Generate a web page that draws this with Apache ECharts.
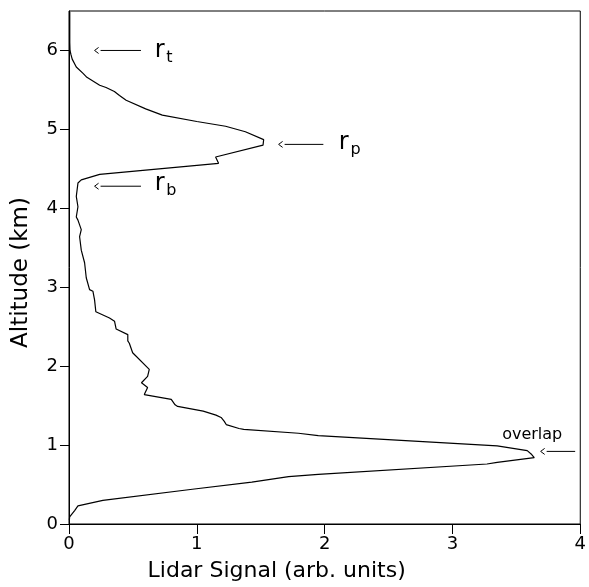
<!DOCTYPE html>
<html>
<head>
<meta charset="utf-8">
<script src="https://cdn.jsdelivr.net/npm/echarts@6/dist/echarts.min.js"></script>
<style>
  html, body { margin: 0; padding: 0; background: #fff; }
  #chart { width: 589px; height: 587px; }
</style>
</head>
<body>
<div id="chart"></div>
<script>
// ---- Data ----
// Altitude (km), ordered along the profile from the ground upwards
const altitude = [
  0.05, 0.09, 0.17, 0.23, 0.30, 0.44, 0.53, 0.60, 0.63, 0.76, 0.78, 0.84,
  0.88, 0.93, 0.99, 1.12, 1.15, 1.20, 1.21, 1.26, 1.30, 1.35, 1.38, 1.43,
  1.49, 1.51, 1.58, 1.64, 1.73, 1.79, 1.81, 1.87, 1.96, 2.17, 2.29, 2.32,
  2.40, 2.47, 2.57, 2.61, 2.69, 2.84, 2.95, 2.97, 3.12, 3.31, 3.47, 3.64,
  3.73, 3.85, 3.89, 4.02, 4.15, 4.32, 4.36, 4.43, 4.57, 4.65, 4.80, 4.87,
  4.97, 5.04, 5.10, 5.18, 5.26, 5.37, 5.43, 5.48, 5.53, 5.56, 5.66, 5.71,
  5.79, 5.89, 5.95, 6.00, 6.10, 6.49
];
// Lidar signal (arb. units) at each altitude above
const signal = [
  0.003, 0.005, 0.044, 0.07, 0.265, 0.965, 1.43, 1.718, 1.95, 3.27, 3.35, 3.64,
  3.62, 3.585, 3.35, 1.95, 1.795, 1.367, 1.33, 1.23, 1.215, 1.19, 1.15, 1.05,
  0.85, 0.83, 0.80, 0.589, 0.615, 0.567, 0.576, 0.615, 0.628, 0.498, 0.472, 0.46,
  0.46, 0.369, 0.356, 0.317, 0.21, 0.20, 0.187, 0.161, 0.135, 0.122, 0.096, 0.083,
  0.096, 0.07, 0.057, 0.07, 0.057, 0.07, 0.096, 0.24, 1.17, 1.147, 1.518, 1.523,
  1.38, 1.225, 1.0, 0.73, 0.60, 0.447, 0.395, 0.355, 0.29, 0.24, 0.14, 0.11,
  0.057, 0.025, 0.015, 0.008, 0.006, 0.006
];

// Axis ticks / labels
const xTicks = [0, 1, 2, 3, 4];
const yTicks = [0, 1, 2, 3, 4, 5, 6];
const xName = 'Lidar Signal (arb. units)';
const yName = 'Altitude (km)';

// Annotations (arrow tip, arrow tail, label position in data units)
const markSub   = ['t', 'p', 'b'];
const markY     = [6.0, 4.81, 4.28];
const markTipX  = [0.2, 1.64, 0.2];
const markTailX = [0.563, 1.99, 0.563];
const markTextX = [0.67, 2.11, 0.67];
const markTextY = [5.97, 4.81, 4.28];

const overlapText = 'overlap';
const overlapTipX = 3.69;
const overlapTailX = 3.96;
const overlapY = 0.92;
const overlapTextX = 3.624;
const overlapTextY = 1.124;

// ---- Chart ----
const FONT = '"DejaVu Sans", "Liberation Sans", sans-serif';
const chart = echarts.init(document.getElementById('chart'), null, { renderer: 'canvas' });

const profile = altitude.map((a, i) => [signal[i], a]);

chart.setOption({
  animation: false,
  backgroundColor: '#ffffff',
  grid: {
    left: 69, right: 6, top: 11, bottom: 62,
    show: true, borderColor: '#000', borderWidth: 1, backgroundColor: 'transparent'
  },
  xAxis: {
    type: 'value', min: 0, max: 4, interval: 1,
    name: xName, nameLocation: 'middle', nameGap: 36,
    nameTextStyle: { fontFamily: FONT, fontSize: 22, color: '#000', padding: [0, 96, 0, 0] },
    axisLine: { show: true, lineStyle: { color: '#000', width: 1 } },
    axisTick: { show: true, inside: false, length: 10, customValues: xTicks, lineStyle: { color: '#000' } },
    axisLabel: { customValues: xTicks, fontFamily: FONT, fontSize: 18, color: '#000', margin: 11 },
    splitLine: { show: false }
  },
  yAxis: {
    type: 'value', min: 0, max: 6.5, interval: 1,
    name: yName, nameLocation: 'middle', nameGap: 36, nameRotate: 90,
    nameTextStyle: { fontFamily: FONT, fontSize: 23, color: '#000', padding: [0, 10, 0, 0] },
    axisLine: { show: true, lineStyle: { color: '#000', width: 1 } },
    axisTick: { show: true, inside: false, length: 9, customValues: yTicks, lineStyle: { color: '#000' } },
    axisLabel: { customValues: yTicks, fontFamily: FONT, fontSize: 18, color: '#000', margin: 11 },
    splitLine: { show: false }
  },
  series: [{
    type: 'line',
    data: profile,
    showSymbol: false,
    symbol: 'none',
    smooth: false,
    lineStyle: { color: '#000', width: 1.2 },
    z: 3
  }]
});

// Build annotation graphics from data coordinates
function px(x, y) { return chart.convertToPixel({ gridIndex: 0 }, [x, y]); }
function arrow(tipX, tailX, y) {
  const t = px(tipX, y), e = px(tailX, y);
  return [
    { type: 'polyline', shape: { points: [[t[0] + 4, t[1] - 3], [t[0], t[1]], [t[0] + 4, t[1] + 3]] },
      style: { stroke: '#000', lineWidth: 1, fill: null } },
    { type: 'line', shape: { x1: t[0] + 6, y1: t[1], x2: e[0], y2: e[1] },
      style: { stroke: '#000', lineWidth: 1 } }
  ];
}
const elements = [];
for (let i = 0; i < markSub.length; i++) {
  elements.push(...arrow(markTipX[i], markTailX[i], markY[i]));
  const p = px(markTextX[i], markTextY[i]);
  elements.push({ type: 'text', x: p[0], y: p[1] - 2,
    style: { text: 'r', font: '24px ' + FONT, fill: '#000', textAlign: 'left', textVerticalAlign: 'middle' } });
  elements.push({ type: 'text', x: p[0] + 11.7, y: p[1] - 2 + 7,
    style: { text: markSub[i], font: '16px ' + FONT, fill: '#000', textAlign: 'left', textVerticalAlign: 'middle' } });
}
elements.push(...arrow(overlapTipX, overlapTailX, overlapY));
const op = px(overlapTextX, overlapTextY);
elements.push({ type: 'text', x: op[0], y: op[1],
  style: { text: overlapText, font: '16px ' + FONT, fill: '#000', textAlign: 'center', textVerticalAlign: 'middle' } });

chart.setOption({ graphic: { elements: elements } });
</script>
</body>
</html>
